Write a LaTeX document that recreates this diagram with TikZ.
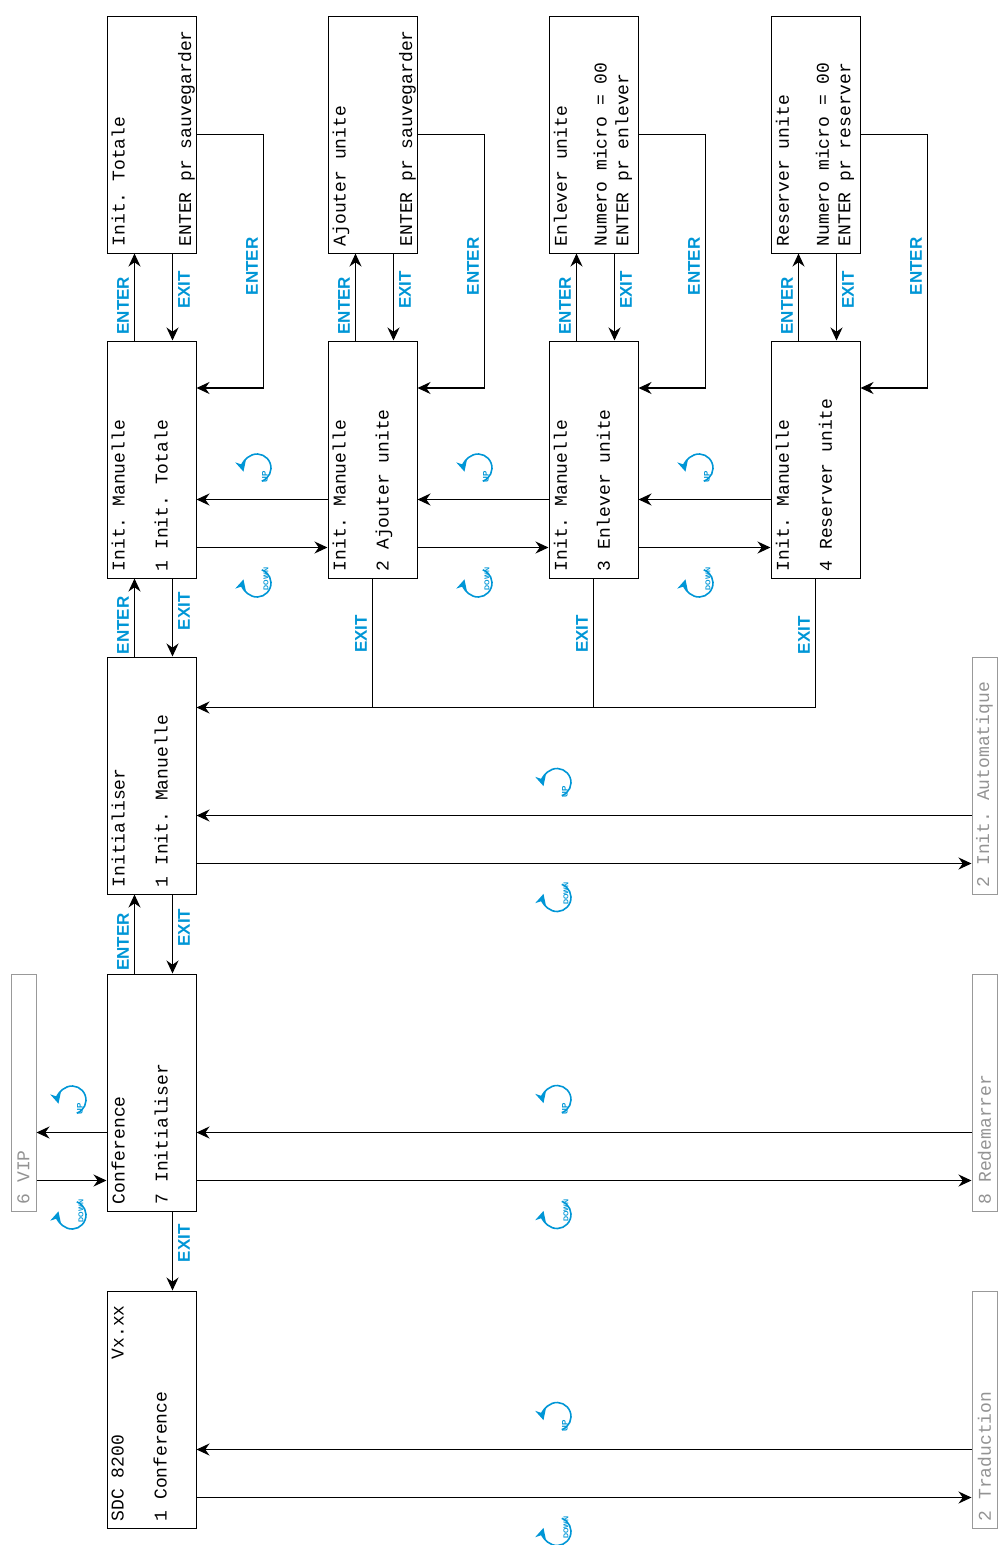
\documentclass[tikz,border=0pt]{standalone}
\usepackage{fontspec}
\setmonofont{Liberation Mono}
\setsansfont{Liberation Sans}
\usetikzlibrary{arrows.meta}
\definecolor{keyblue}{RGB}{0,150,214}

\tikzset{
  box/.style={draw, line width=1pt, rotate=90, minimum width=237pt, minimum height=89pt, inner sep=0pt},
  gbox/.style={draw=gray!80, line width=1pt, rotate=90, minimum width=237pt, minimum height=25pt, inner sep=0pt},
  lcd/.style={rotate=90, anchor=north west, inner sep=0pt, align=left, font=\ttfamily\fontsize{18}{21.5}\selectfont},
  glcd/.style={rotate=90, anchor=west, inner sep=0pt, text=gray!85, font=\ttfamily\fontsize{18}{21.5}\selectfont},
  arr/.style={line width=1.3pt, -{Stealth[length=13pt, width=12pt]}},
  lbl/.style={rotate=90, text=keyblue, inner sep=5pt, font=\sffamily\bfseries\fontsize{17}{17}\selectfont},
  lleft/.style={lbl, anchor=south},
  lright/.style={lbl, anchor=north},
  upicon/.pic={
    \draw[keyblue, line width=1.6pt, -{Stealth[length=11pt, width=11pt]}] (70:14) arc[start angle=70, end angle=-195, radius=14];
    \node[rotate=90, text=keyblue, inner sep=0pt, font=\sffamily\bfseries\fontsize{8}{8}\selectfont] at (8,9) {UP};
  },
  downicon/.pic={
    \draw[keyblue, line width=1.6pt, -{Stealth[length=11pt, width=11pt]}] (-70:14) arc[start angle=-70, end angle=195, radius=14];
    \node[rotate=90, text=keyblue, inner sep=0pt, font=\sffamily\bfseries\fontsize{7}{7}\selectfont] at (9,-4) {DOWN};
  }
}

\begin{document}
\begin{tikzpicture}[x=1pt, y=-1pt]
  \useasboundingbox (0,0) rectangle (1001,1545);

  % Top row
  \node[box] (tt1) at (151.5,134.5) {};
  \node[box] (tt2) at (372.5,134.5) {};
  \node[box] (tt3) at (593.5,134.5) {};
  \node[box] (tt4) at (815.5,134.5) {};
  \node[lcd] (tt1-t) at ([xshift=5pt, yshift=7pt]tt1.north west) {Init. Totale\\[45pt]ENTER pr sauvegarder};
  \node[lcd] (tt2-t) at ([xshift=5pt, yshift=7pt]tt2.north west) {Ajouter unite\\[45pt]ENTER pr sauvegarder};
  \node[lcd] (tt3-t) at ([xshift=5pt, yshift=7pt]tt3.north west) {Enlever unite\\[18.5pt]Numero micro = 00\\ENTER pr enlever};
  \node[lcd] (tt4-t) at ([xshift=5pt, yshift=7pt]tt4.north west) {Reserver unite\\[18.5pt]Numero micro = 00\\ENTER pr reserver};

  % Init. Manuelle row
  \node[box] (im1) at (151.5,459.5) {};
  \node[box] (im2) at (372.5,459.5) {};
  \node[box] (im3) at (593.5,459.5) {};
  \node[box] (im4) at (815.5,459.5) {};
  \node[lcd] (im1-t) at ([xshift=5pt, yshift=7pt]im1.north west) {Init. Manuelle\\[21.5pt]1 Init. Totale};
  \node[lcd] (im2-t) at ([xshift=5pt, yshift=7pt]im2.north west) {Init. Manuelle\\[21.5pt]2 Ajouter unite};
  \node[lcd] (im3-t) at ([xshift=5pt, yshift=7pt]im3.north west) {Init. Manuelle\\[21.5pt]3 Enlever unite};
  \node[lcd] (im4-t) at ([xshift=5pt, yshift=7pt]im4.north west) {Init. Manuelle\\[21.5pt]4 Reserver unite};

  % Main column
  \node[box] (ini) at (151.5,775.5) {};
  \node[box] (conf) at (151.5,1092.5) {};
  \node[box] (sdc) at (151.5,1409.5) {};
  \node[lcd] (ini-t) at ([xshift=5pt, yshift=7pt]ini.north west) {Initialiser\\[21.5pt]1 Init. Manuelle};
  \node[lcd] (conf-t) at ([xshift=5pt, yshift=7pt]conf.north west) {Conference\\[21.5pt]7 Initialiser};
  \node[lcd] (sdc-t) at ([xshift=5pt, yshift=7pt]sdc.north west) {SDC 8200\phantom{0000000}Vx.xx\\[21.5pt]1 Conference};

  % Grey neighbours
  \node[gbox] (vip) at (23.5,1092.5) {};
  \node[gbox] (auto) at (984.5,775.5) {};
  \node[gbox] (redem) at (984.5,1092.5) {};
  \node[gbox] (trad) at (984.5,1409.5) {};
  \node[glcd] (vip-t) at ([yshift=7pt]vip.west) {6 VIP};
  \node[glcd] (auto-t) at ([yshift=7pt]auto.west) {2 Init. Automatique};
  \node[glcd] (redem-t) at ([yshift=7pt]redem.west) {8 Redemarrer};
  \node[glcd] (trad-t) at ([yshift=7pt]trad.west) {2 Traduction};

  % ENTER / EXIT between rows
  \foreach \lo/\hi in {im1/tt1, im2/tt2, im3/tt3, im4/tt4, ini/im1, conf/ini} {
    \draw[arr] ([xshift=-17pt]\lo.east) -- node[lleft, pos=.4] {ENTER} ([xshift=-17pt]\hi.west);
    \draw[arr] ([xshift=21pt]\hi.west) -- node[lright, pos=.42] {EXIT} ([xshift=21pt]\lo.east);
  }
  \draw[arr] ([xshift=21pt]conf.west) -- node[lright, pos=.4] {EXIT} ([xshift=21pt]sdc.east);

  % ENTER back to the menu
  \foreach \hi/\lo in {tt1/im1, tt2/im2, tt3/im3, tt4/im4} {
    \draw[arr] (\hi.south) -- ++(67,0) |- node[lleft, pos=.26] {ENTER} ([yshift=71.5pt]\lo.south);
  }

  % EXIT back to Initialiser
  \coordinate (jexit) at ([yshift=68pt]ini.south);
  \draw[line width=1.3pt] (im2.west) -- node[lleft, pos=.43] {EXIT} (im2.west |- jexit);
  \draw[line width=1.3pt] (im3.west) -- node[lleft, pos=.43] {EXIT} (im3.west |- jexit);
  \draw[arr] (im4.west) |- node[lleft, pos=.22] {EXIT} (jexit);

  % UP / DOWN
  \foreach \a/\b in {im1/im2, im2/im3, im3/im4, ini/auto, conf/redem, sdc/trad} {
    \draw[arr] ([yshift=-88pt]\a.south) -- ([yshift=-88pt]\b.north);
    \draw[arr] ([yshift=-40pt]\b.north) -- ([yshift=-40pt]\a.south);
  }
  \draw[arr] ([yshift=-40pt]conf.north) -- ([yshift=-40pt]vip.south);
  \draw[arr] ([yshift=-88pt]vip.south) -- ([yshift=-88pt]conf.north);

  % key icons
  \foreach \x in {257, 478, 699} {
    \pic at (\x,468) {upicon};
    \pic at (\x,583) {downicon};
  }
  \foreach \y in {775.5, 1092.5, 1409.5} {
    \pic at (557,\y+7) {upicon};
    \pic at (557,\y+122) {downicon};
  }
  \pic at (72,1100) {upicon};
  \pic at (72,1215) {downicon};
\end{tikzpicture}
\end{document}
